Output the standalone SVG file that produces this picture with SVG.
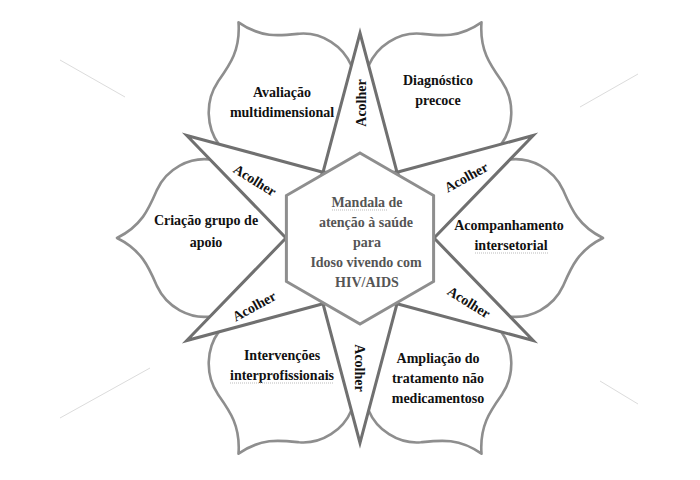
<svg xmlns="http://www.w3.org/2000/svg" xmlns:xlink="http://www.w3.org/1999/xlink" width="700" height="480" viewBox="0 0 700 480">
<style>
.petal{fill:#fff;stroke:#8e8e8e;stroke-width:2.6;stroke-linejoin:round}
.tri{fill:#fff;stroke:#707070;stroke-width:3;stroke-linejoin:miter}
.hex{fill:#fff;stroke:#8e8e8e;stroke-width:3}
.lbl{font-family:"Liberation Serif","Times New Roman",serif;font-weight:bold;font-size:14px;fill:#111;text-anchor:middle}
.ctr{font-family:"Liberation Serif","Times New Roman",serif;font-weight:bold;font-size:14px;fill:#555;text-anchor:middle}
.faint{stroke:#dcdcdc;stroke-width:1;fill:none}
.squig{stroke:#bbb;stroke-width:1;stroke-dasharray:1 1;fill:none}
</style>
<defs>
<path id="petalShape" class="petal" d="M -150,-76.6 C -170,-79 -193,-68 -203,-47 C -211,-29 -218,-12 -243,0 C -218,12 -211,29 -203,47 C -193,68 -170,79 -150,76.6 L -130,70 L -60,0 L -130,-70 Z"/>
<polygon id="triShape" class="tri" points="0,-200 37,-64.1 -37,-64.1"/>
</defs>
<rect width="700" height="480" fill="#fff"/>
<g id="connectors">
<line class="faint" x1="60" y1="60" x2="125" y2="97"/>
<line class="faint" x1="60" y1="418" x2="150" y2="368"/>
<line class="faint" x1="580" y1="107" x2="638" y2="74"/>
<line class="faint" x1="600" y1="381" x2="638" y2="404"/>
</g>
<g id="petal-avaliacao">
<use xlink:href="#petalShape" transform="translate(360,238) scale(1,1.025) rotate(60)"/>
<text class="lbl" x="282" y="97">Avaliação</text>
<text class="lbl" x="282" y="117">multidimensional</text>
</g>
<g id="petal-diagnostico">
<use xlink:href="#petalShape" transform="translate(360,238) scale(1,1.025) rotate(120)"/>
<text class="lbl" x="438" y="85">Diagnóstico</text>
<text class="lbl" x="438" y="105">precoce</text>
</g>
<g id="petal-acompanhamento">
<use xlink:href="#petalShape" transform="translate(360,238) scale(1,1.025) rotate(180)"/>
<text class="lbl" x="509" y="230">Acompanhamento</text>
<text class="lbl" x="511" y="250">intersetorial</text>
<path class="squig" d="M475,253 L549,253"/>
</g>
<g id="petal-ampliacao">
<use xlink:href="#petalShape" transform="translate(360,238) scale(1,1.025) rotate(240)"/>
<text class="lbl" x="438" y="363">Ampliação do</text>
<text class="lbl" x="438" y="383">tratamento não</text>
<text class="lbl" x="438" y="403">medicamentoso</text>
</g>
<g id="petal-intervencoes">
<use xlink:href="#petalShape" transform="translate(360,238) scale(1,1.025) rotate(300)"/>
<text class="lbl" x="282" y="360">Intervenções</text>
<text class="lbl" x="282" y="380">interprofissionais</text>
<path class="squig" d="M230,383 L333,383"/>
</g>
<g id="petal-criacao">
<use xlink:href="#petalShape" transform="translate(360,238) scale(1,1.025)"/>
<text class="lbl" x="206" y="225">Criação grupo de</text>
<text class="lbl" x="206" y="247">apoio</text>
</g>
<g id="acolher-top">
<use xlink:href="#triShape" transform="translate(360,238) scale(1,1.025)"/>
<text class="lbl" transform="translate(361,103) rotate(-90)" dy="5">Acolher</text>
</g>
<g id="acolher-upper-right">
<use xlink:href="#triShape" transform="translate(360,238) scale(1,1.025) rotate(60)"/>
<text class="lbl" transform="translate(466,177) rotate(-29)" dy="5">Acolher</text>
</g>
<g id="acolher-lower-right">
<use xlink:href="#triShape" transform="translate(360,238) scale(1,1.025) rotate(120)"/>
<text class="lbl" transform="translate(469,302) rotate(32)" dy="5">Acolher</text>
</g>
<g id="acolher-bottom">
<use xlink:href="#triShape" transform="translate(360,238) scale(1,1.025) rotate(180)"/>
<text class="lbl" transform="translate(360,368) rotate(90)" dy="5">Acolher</text>
</g>
<g id="acolher-lower-left">
<use xlink:href="#triShape" transform="translate(360,238) scale(1,1.025) rotate(240)"/>
<text class="lbl" transform="translate(254,306) rotate(-29)" dy="5">Acolher</text>
</g>
<g id="acolher-upper-left">
<use xlink:href="#triShape" transform="translate(360,238) scale(1,1.025) rotate(300)"/>
<text class="lbl" transform="translate(255,180) rotate(32)" dy="5">Acolher</text>
</g>
<g id="center">
<polygon class="hex" points="360,153 433.6,195.5 433.6,281.5 360,324 286.4,281.5 286.4,195.5"/>
<text class="ctr" x="367" y="207">Mandala de</text>
<path class="squig" d="M332,210 L387,210"/>
<text class="ctr" x="366" y="227">atenção à saúde</text>
<text class="ctr" x="367" y="247">para</text>
<text class="ctr" x="366" y="267">Idoso vivendo com</text>
<text class="ctr" x="367" y="287">HIV/AIDS</text>
</g>
</svg>
